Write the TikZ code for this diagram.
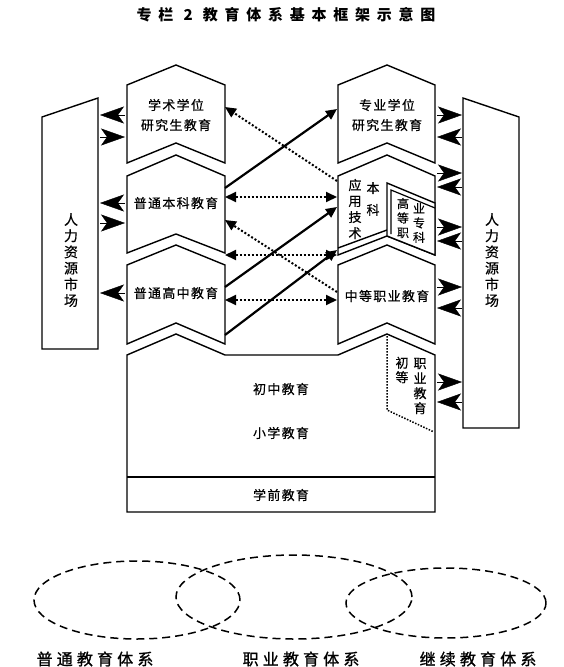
\documentclass[tikz,border=0pt]{standalone}
\usepackage{fontspec}
\usetikzlibrary{arrows.meta}
\newfontfamily\cjk[FakeBold=0.4]{Noto Sans CJK SC}
\newfontfamily\cjkbox[LetterSpace=10,FakeBold=0.4]{Noto Sans CJK SC}
\newfontfamily\cjktitle[LetterSpace=45]{Noto Sans CJK SC}
\newfontfamily\cjklabel[LetterSpace=26,FakeBold=1.2]{Noto Sans CJK SC}
\tikzset{
  outline/.style={line width=1.4pt, fill=white, line join=miter},
  boxtext/.style={font=\cjkbox\fontsize{13}{20}\selectfont, align=center, inner sep=0pt},
  coltext/.style={font=\cjk\fontsize{13}{16}\selectfont, align=center, inner sep=0pt},
  smalltext/.style={font=\cjk\fontsize{12}{14.5}\selectfont, align=center, inner sep=0pt},
  mkttext/.style={font=\cjk\fontsize{14}{16.2}\selectfont, align=center, inner sep=0pt},
  mktarrow/.style={-{Stealth[length=24pt,width=17pt,inset=6pt]}, line width=0.4pt},
  solidarrow/.style={-{Triangle[length=11pt,width=10pt]}, line width=2.2pt},
  dotarrow/.style={-{Triangle[length=11pt,width=10pt]}, line width=2pt, dash pattern=on 2pt off 2pt},
  dotboth/.style={{Triangle[length=11pt,width=10pt]}-{Triangle[length=11pt,width=10pt]}, line width=2pt, dash pattern=on 2pt off 2pt},
  sysellipse/.style={line width=1.5pt, dash pattern=on 8pt off 5pt},
  syslabel/.style={font=\cjklabel\fontsize{16}{18}\selectfont, inner sep=0pt},
}
\begin{document}
\begin{tikzpicture}[x=1pt,y=-1pt]
\useasboundingbox (0,0) rectangle (563,667);
\fill[white] (0,0) rectangle (563,667);

% title
\node[font=\cjktitle\bfseries\fontsize{15}{18}\selectfont, inner sep=0pt] (title) at (286,15) {专栏 2 教育体系基本框架示意图};

% human resource markets
\draw[outline] (42,117) -- (98,98) -- (98,349) -- (42,349) -- cycle;
\node[mkttext] (mktL) at (71,260) {人\\力\\资\\源\\市\\场};
\draw[outline] (463,98) -- (519,117) -- (519,428) -- (463,428) -- cycle;
\node[mkttext] (mktR) at (492,260) {人\\力\\资\\源\\市\\场};

% left column
\draw[outline] (127,85) -- (176,65) -- (225,85) -- (225,163) -- (176,143) -- (127,163) -- cycle;
\node[boxtext] (xsxw) at (176,115) {学术学位\\研究生教育};
\draw[outline] (127,176) -- (176,155) -- (225,176) -- (225,253) -- (176,234) -- (127,253) -- cycle;
\node[boxtext] (ptbk) at (176,203) {普通本科教育};
\draw[outline] (127,265) -- (176,245) -- (225,265) -- (225,344) -- (176,323) -- (127,344) -- cycle;
\node[boxtext] (ptgz) at (176,293) {普通高中教育};

% right column
\draw[outline] (338,85) -- (387,65) -- (435,85) -- (435,163) -- (387,143) -- (338,163) -- cycle;
\node[boxtext] (zyxw) at (387,115) {专业学位\\研究生教育};
\draw[outline] (338,176) -- (387,155) -- (435,176) -- (435,255) -- (387,236) -- (338,255) -- cycle;
\draw[line width=1.4pt] (338,248) -- (387,230);
\draw[outline] (387,183) -- (435,203) -- (435,255) -- (387,236) -- cycle;
\draw[line width=1.2pt, line join=miter] (391,234) -- (391,190) -- (435,208);
\node[coltext] (yyjs) at (355,209) {应\\用\\技\\术};
\node[font=\cjk\fontsize{13}{22}\selectfont, align=center, inner sep=0pt] (bk) at (373,199) {本\\科};
\node[smalltext] (gdz) at (403,218) {高\\等\\职};
\node[smalltext] (yzk) at (419,223) {业\\专\\科};
\draw[outline] (338,265) -- (387,245) -- (435,265) -- (435,344) -- (387,323) -- (338,344) -- cycle;
\node[boxtext] (zdzy) at (387,296) {中等职业教育};

% basic education block
\draw[outline] (127,355) -- (176,334) -- (225,355) -- (338,355) -- (387,334) -- (435,355) -- (435,512) -- (127,512) -- cycle;
\draw[line width=1.4pt] (127,477) -- (435,477);
\node[boxtext] (czjy) at (281,389) {初中教育};
\node[boxtext] (xxjy) at (281,433) {小学教育};
\node[boxtext] (xqjy) at (281,495) {学前教育};
\draw[line width=1.5pt, dash pattern=on 1.5pt off 1.5pt] (387,336) -- (387,410) -- (434,432);
\node[font=\cjk\fontsize{13}{14.5}\selectfont, align=center, inner sep=0pt] (cd) at (402,370) {初\\等};
\node[font=\cjk\fontsize{13}{15}\selectfont, align=center, inner sep=0pt] (zyjy) at (420,386) {职\\业\\教\\育};

% coordinates for connectors
\coordinate (Lx1) at (225,107);
\coordinate (Lb1) at (225,188);
\coordinate (Lb2) at (225,197);
\coordinate (Lb3) at (225,220);
\coordinate (Lm)  at (225,255);
\coordinate (Lg1) at (225,287);
\coordinate (Lg2) at (225,300);
\coordinate (Lg3) at (225,335);
\coordinate (Rz1) at (337,109);
\coordinate (Ry1) at (337,181);
\coordinate (Ry2) at (337,197);
\coordinate (Ry3) at (337,207);
\coordinate (Rm)  at (337,255);
\coordinate (Rm2) at (337,250);
\coordinate (Rc1) at (337,292);
\coordinate (Rc2) at (337,300);

\draw[dotarrow] (Ry1) -- (Lx1);
\draw[solidarrow] (Lb1) -- (Rz1);
\draw[dotboth] (Lb2) -- (Ry2);
\draw[solidarrow] (Lg1) -- (Ry3);
\draw[dotarrow] (Rc1) -- (Lb3);
\draw[dotboth] (Lm) -- (Rm);
\draw[solidarrow] (Lg3) -- (Rm2);
\draw[dotboth] (Lg2) -- (Rc2);

% market arrows left
\coordinate (ML1) at (100,115); \coordinate (BL1) at (125,115);
\coordinate (ML2) at (100,137); \coordinate (BL2) at (125,137);
\coordinate (ML3) at (100,203); \coordinate (BL3) at (125,203);
\coordinate (ML4) at (100,223); \coordinate (BL4) at (125,223);
\coordinate (ML5) at (100,293); \coordinate (BL5) at (125,293);
\draw[mktarrow] (BL1) -- (ML1);
\draw[mktarrow] (ML2) -- (BL2);
\draw[mktarrow] (BL3) -- (ML3);
\draw[mktarrow] (ML4) -- (BL4);
\draw[mktarrow] (BL5) -- (ML5);

% market arrows right
\coordinate (BR1) at (437,115); \coordinate (MR1) at (462,115);
\coordinate (BR2) at (437,137); \coordinate (MR2) at (462,137);
\coordinate (BR3) at (437,173); \coordinate (MR3) at (462,173);
\coordinate (BR4) at (437,187); \coordinate (MR4) at (462,187);
\coordinate (BR5) at (437,227); \coordinate (MR5) at (462,227);
\coordinate (BR6) at (437,241); \coordinate (MR6) at (462,241);
\coordinate (BR7) at (437,287); \coordinate (MR7) at (462,287);
\coordinate (BR8) at (437,308); \coordinate (MR8) at (462,308);
\coordinate (BR9) at (437,382); \coordinate (MR9) at (462,382);
\coordinate (BR10) at (437,402); \coordinate (MR10) at (462,402);
\draw[mktarrow] (BR1) -- (MR1);
\draw[mktarrow] (MR2) -- (BR2);
\draw[mktarrow] (BR3) -- (MR3);
\draw[mktarrow] (MR4) -- (BR4);
\draw[mktarrow] (BR5) -- (MR5);
\draw[mktarrow] (MR6) -- (BR6);
\draw[mktarrow] (BR7) -- (MR7);
\draw[mktarrow] (MR8) -- (BR8);
\draw[mktarrow] (BR9) -- (MR9);
\draw[mktarrow] (MR10) -- (BR10);

% education systems
\draw[sysellipse] (137,600) ellipse [x radius=103pt, y radius=39pt];
\draw[sysellipse] (294,597) ellipse [x radius=118pt, y radius=42pt];
\draw[sysellipse] (446,603) ellipse [x radius=100pt, y radius=35pt];
\node[syslabel] (ptjytx) at (95,659) {普通教育体系};
\node[syslabel] (zyjytx) at (301,659) {职业教育体系};
\node[syslabel] (jxjytx) at (478,659) {继续教育体系};
\end{tikzpicture}
\end{document}
